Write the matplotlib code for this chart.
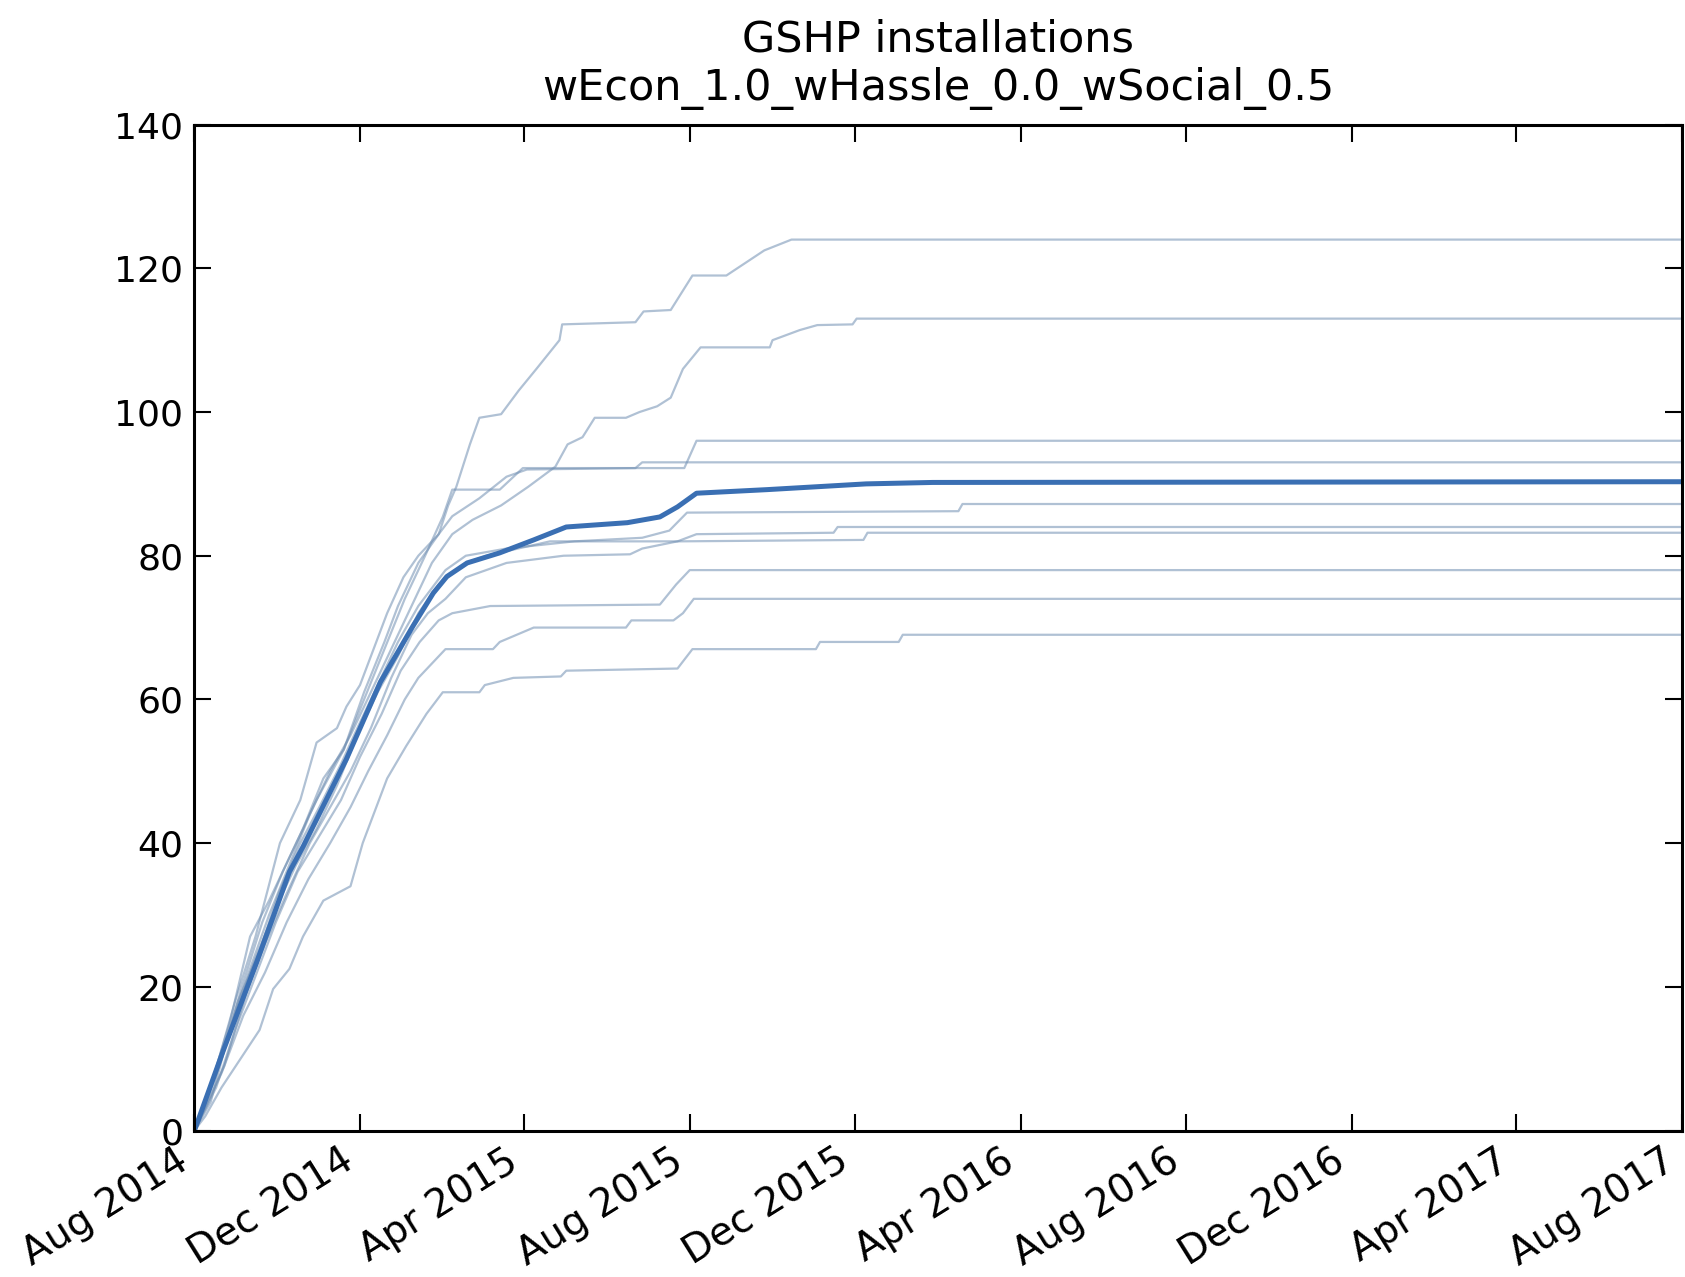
import numpy as np
import pandas as pd
import matplotlib
matplotlib.use("Agg")
import matplotlib.pyplot as plt
import matplotlib.dates as mdates

# runs: (days since 1 Aug 2014, installations)
start = pd.Timestamp("2014-08-01")
end_day = 1096

run_124 = [(0, 0), (15, 8), (30, 18), (45, 27), (63, 40), (78, 46), (90, 54), (105, 56), (112, 59),
           (122, 62), (132, 67), (142, 72), (154, 77), (165, 80), (180, 83), (187, 87), (193, 89.6),
           (203, 95.5), (210, 99.2), (226, 99.7), (239, 103), (252, 106), (269, 110), (271, 112.2),
           (325, 112.5), (331, 114), (351, 114.2), (367, 119), (392, 119), (400, 120), (420, 122.5),
           (440, 124), (end_day, 124)]
run_113 = [(0, 0), (12, 4), (26, 14), (40, 22), (55, 30), (70, 37), (85, 44), (100, 50), (115, 55),
           (130, 61), (145, 67), (160, 73), (175, 79), (190, 83), (205, 85), (226, 87), (246, 89.6),
           (266, 92.4), (275, 95.5), (286, 96.5), (295, 99.2), (318, 99.2), (328, 100), (341, 100.8),
           (351, 102), (360, 106), (373, 109), (424, 109), (426, 110), (446, 111.4), (459, 112.1),
           (485, 112.2), (488, 113), (end_day, 113)]
run_96 = [(0, 0), (10, 5), (26, 15), (41, 27), (55, 32), (70, 38), (90, 46), (110, 53), (125, 60),
          (140, 67), (155, 74), (170, 80), (183, 85.4), (190, 89.2), (225, 89.2), (242, 92.2),
          (361, 92.2), (370, 96), (end_day, 96)]
run_93 = [(0, 0), (20, 10), (35, 20), (50, 29), (65, 36), (80, 42), (95, 49), (110, 53), (125, 61),
          (140, 68), (150, 73), (165, 79), (180, 83), (190, 85.5), (210, 88), (230, 91), (245, 92),
          (325, 92.2), (330, 93), (end_day, 93)]
run_87 = [(0, 0), (18, 9), (32, 18), (48, 25), (62, 33), (78, 40), (92, 45), (108, 51), (120, 56),
          (135, 62), (150, 68), (165, 73), (185, 78), (200, 80), (230, 81), (280, 82), (330, 82.5),
          (350, 83.5), (363, 86), (563, 86.2), (566, 87.2), (end_day, 87.2)]
run_84 = [(0, 0), (15, 7), (30, 16), (45, 24), (60, 31), (75, 37), (90, 42), (105, 48), (120, 55),
          (135, 61), (150, 66), (165, 72), (180, 76), (200, 79), (215, 80), (262, 82), (356, 82),
          (370, 83), (471, 83.2), (474, 84), (end_day, 84)]
run_83 = [(0, 0), (22, 9), (38, 19), (52, 26), (68, 33), (85, 40), (100, 45), (115, 50), (130, 56),
          (145, 63), (160, 69), (172, 72), (185, 74), (200, 77), (230, 79), (272, 80), (321, 80.2),
          (330, 81), (356, 82), (493, 82.2), (496, 83.2), (end_day, 83.2)]
run_78 = [(0, 0), (16, 6), (30, 14), (46, 22), (60, 29), (76, 36), (92, 41), (108, 46), (122, 52),
          (138, 58), (152, 64), (166, 68), (180, 71), (190, 72), (218, 73), (343, 73.2), (355, 76),
          (365, 78), (end_day, 78)]
run_74 = [(0, 0), (20, 8), (36, 16), (52, 22), (68, 29), (84, 35), (100, 40), (115, 45), (128, 50),
          (142, 55), (155, 60), (165, 63), (175, 65), (185, 67), (220, 67), (225, 68), (250, 70),
          (318, 70), (322, 71), (353, 71), (360, 72), (368, 74), (end_day, 74)]
run_69 = [(0, 0), (8, 2), (20, 6), (34, 10), (48, 14), (58, 19.7), (70, 22.5), (80, 27), (95, 32),
          (115, 34), (124, 40), (132, 44), (142, 49), (156, 53.5), (171, 58), (183, 61), (210, 61),
          (214, 62), (235, 63), (270, 63.2), (274, 64), (356, 64.3), (367, 67), (458, 67), (461, 68),
          (519, 68), (522, 69), (end_day, 69)]

mean_run = [(0, 0), (21, 11), (46, 23.5), (70, 36), (80, 39.5), (90, 43.3), (112, 51.7), (137, 62.4),
            (161, 70.2), (176, 74.8), (186, 77.1), (201, 79), (225, 80.4), (250, 82.2), (274, 84),
            (319, 84.6), (343, 85.4), (356, 86.8), (370, 88.7), (422, 89.2), (495, 90), (544, 90.2),
            (end_day, 90.3)]

runs = [run_124, run_113, run_96, run_93, run_87, run_84, run_83, run_78, run_74, run_69]


def to_dates(run):
    days = [p[0] for p in run]
    vals = [p[1] for p in run]
    return start + pd.to_timedelta(days, unit="D"), vals


plt.rcParams['font.family'] = ['DejaVu Sans']
fig = plt.figure(figsize=(16.85, 12.77), dpi=100)
ax = fig.add_axes([0.1154, 0.1147, 0.8826, 0.7877])

for run in runs:
    x, y = to_dates(run)
    ax.plot(x, y, color='#6f8eb2', alpha=0.55, lw=1.6)

x, y = to_dates(mean_run)
ax.plot(x, y, color='#3a6fb3', lw=3.6)

ax.set_xlim(start, start + pd.Timedelta(days=end_day))
ax.set_ylim(0, 140)
ax.set_yticks(np.arange(0, 141, 20))
ax.xaxis.set_major_locator(mdates.MonthLocator(bymonth=[4, 8, 12]))
ax.xaxis.set_major_formatter(mdates.DateFormatter('%b %Y'))

ax.tick_params(direction='in', top=True, right=True, length=12, width=1.5,
               labelsize=26, pad=8)
ax.tick_params(axis='x', labelsize=28)
for s in ax.spines.values():
    s.set_linewidth(2.2)

for lab in ax.get_xticklabels():
    lab.set_rotation(32)
    lab.set_ha('right')

ax.set_title('GSHP installations\nwEcon_1.0_wHassle_0.0_wSocial_0.5', fontsize=31, pad=18)

fig.savefig('out.png', dpi=100)
